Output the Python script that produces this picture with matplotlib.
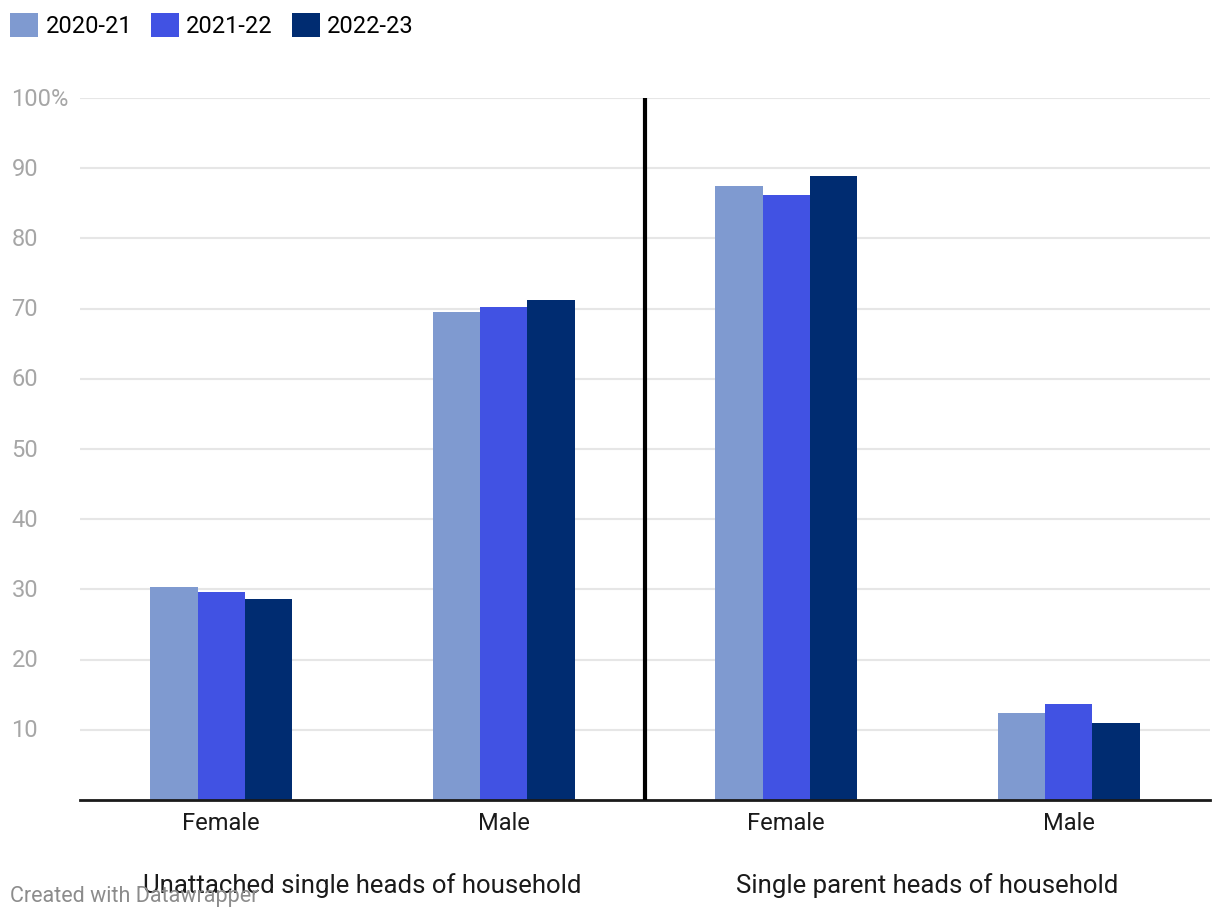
import numpy as np
import matplotlib
matplotlib.use("Agg")
import matplotlib.pyplot as plt
from matplotlib.patches import Patch

plt.rcParams['font.family'] = ['Roboto', 'DejaVu Sans']

categories = ['Female', 'Male', 'Female', 'Male']
groups = ['Unattached single heads of household', 'Single parent heads of household']
series = ['2020-21', '2021-22', '2022-23']
v2021 = [30.3, 69.5, 87.5, 12.4]
v2122 = [29.6, 70.2, 86.2, 13.7]
v2223 = [28.6, 71.2, 88.9, 11.0]
colors = ['#7f9ad0', '#4152e3', '#002c71']

fig = plt.figure(figsize=(12.2, 9.22), dpi=100)
ax = fig.add_axes([80 / 1220, 122 / 922, 1130 / 1220, 702 / 922])

x = np.arange(len(categories))
w = 0.167
for i, (vals, c) in enumerate(zip([v2021, v2122, v2223], colors)):
    ax.bar(x + (i - 1) * w, vals, w, color=c, zorder=3, linewidth=0)

ax.set_xlim(-0.5, 3.5)
ax.set_ylim(0, 100)
ax.set_yticks(range(10, 101, 10))
ax.yaxis.grid(True, color='#e6e6e6', linewidth=1.5, zorder=0)
ax.set_yticklabels([])
ax.tick_params(left=False, bottom=False, labelbottom=False)
for s in ['top', 'right', 'left']:
    ax.spines[s].set_visible(False)
ax.spines['bottom'].set_color('#1a1a1a')
ax.spines['bottom'].set_linewidth(2)
ax.spines['bottom'].set_zorder(4)

# y tick labels, left aligned
for t in range(10, 101, 10):
    lab = f'{t}%' if t == 100 else str(t)
    ax.text(-74 / 1220, t - 0.15, lab, transform=ax.get_yaxis_transform(),
            ha='left', va='center', fontsize=17, color='#a6a6a6')

# category labels
for xi, cat in zip(x, categories):
    ax.text(xi, -3.4, cat, ha='center', va='center', fontsize=17, color='#1a1a1a')

# group labels
for gx, g in zip([0.5, 2.5], groups):
    ax.text(gx, -12.2, g, ha='center', va='center', fontsize=18.5, color='#1a1a1a')

# divider
ax.axvline(1.5, ymin=0, ymax=1, color='black', linewidth=3, zorder=5)

handles = [Patch(facecolor=c, label=s) for c, s in zip(colors, series)]
fig.legend(handles=handles, loc='upper left', bbox_to_anchor=(10 / 1220, 1 - 13 / 922),
           ncol=3, frameon=False, fontsize=17, handlelength=1.2, handleheight=1.2,
           handletextpad=0.3, columnspacing=0.8, borderaxespad=0, borderpad=0)

fig.text(10 / 1220, 1 - 896 / 922, 'Created with Datawrapper', ha='left', va='center',
         fontsize=15.5, color='#8c8c8c')

fig.savefig('out.png', dpi=100)
